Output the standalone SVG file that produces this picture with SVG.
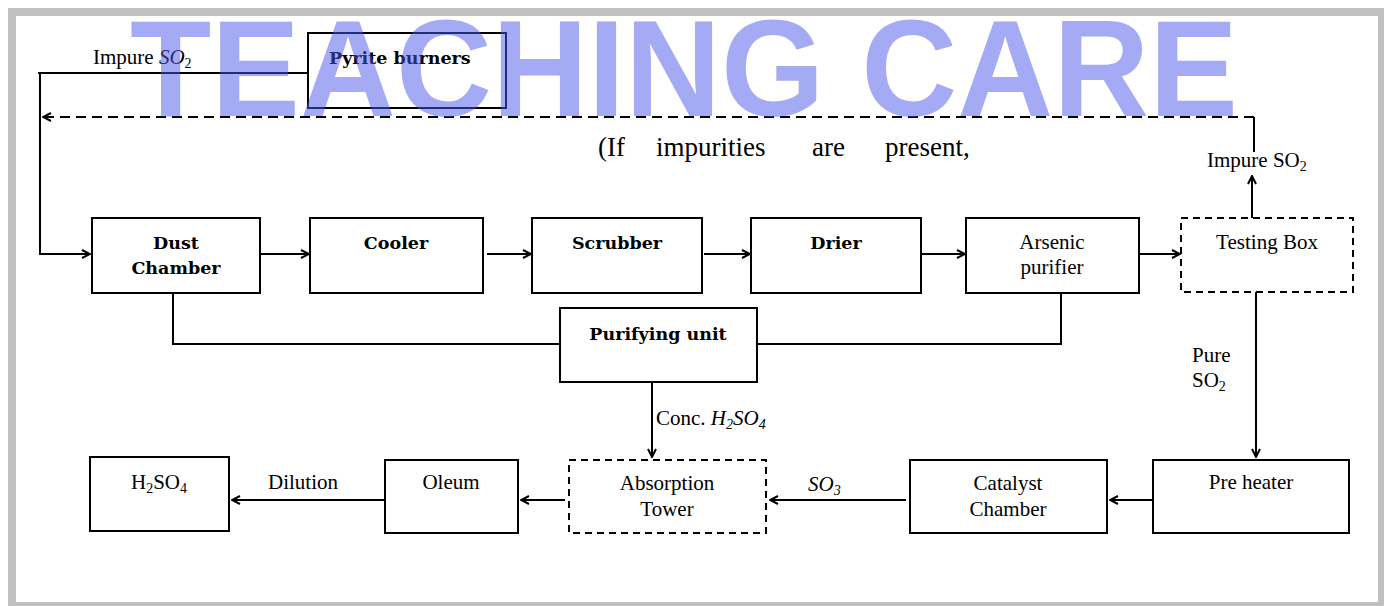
<svg xmlns="http://www.w3.org/2000/svg" width="1384" height="606" viewBox="0 0 1384 606">
<style>
.box{fill:#fff;stroke:#000;stroke-width:2}
.dbox{fill:#fff;stroke:#000;stroke-width:2;stroke-dasharray:7 5}
.ln{fill:none;stroke:#000;stroke-width:2}
.t{font-family:"Liberation Serif",serif;font-size:21px;fill:#000}
.big{font-family:"Liberation Serif",serif;font-size:27px;fill:#000}
.b{font-family:"DejaVu Serif",serif;font-size:17.5px;font-weight:bold;fill:#000}
.m{text-anchor:middle}
.s{font-size:14px}
</style>
<defs>
<marker id="ah" markerWidth="10" markerHeight="10" refX="9" refY="5" orient="auto" markerUnits="userSpaceOnUse">
<path d="M1,1 L9,5 L1,9" fill="none" stroke="#000" stroke-width="2"/>
</marker>
</defs>
<rect x="0" y="0" width="1384" height="606" fill="#fff"/>
<rect x="12" y="12" width="1370" height="594" fill="none" stroke="#c0c0c0" stroke-width="8"/>

<g id="connectors">
<polyline class="ln" points="308,73 38,73 40,73 40,254 90,254" marker-end="url(#ah)"/>
<line class="ln" x1="260" y1="254" x2="309" y2="254" marker-end="url(#ah)"/>
<line class="ln" x1="487" y1="254" x2="531" y2="254" marker-end="url(#ah)"/>
<line class="ln" x1="704" y1="254" x2="750" y2="254" marker-end="url(#ah)"/>
<line class="ln" x1="921" y1="254" x2="965" y2="254" marker-end="url(#ah)"/>
<line class="ln" x1="1139" y1="254" x2="1180" y2="254" marker-end="url(#ah)"/>
<line class="ln" x1="1252" y1="218" x2="1252" y2="176" marker-end="url(#ah)"/>
<polyline class="ln" points="1254,152 1254,117"/>
<polyline class="ln" points="1254,117 43,117" stroke-dasharray="10 6" marker-end="url(#ah)"/>
<polyline class="ln" points="173,293 173,344 560,344"/>
<polyline class="ln" points="1061,293 1061,344 757,344"/>
<line class="ln" x1="652" y1="382" x2="652" y2="457" marker-end="url(#ah)"/>
<line class="ln" x1="1256" y1="292" x2="1256" y2="457" marker-end="url(#ah)"/>
<line class="ln" x1="1153" y1="500" x2="1110" y2="500" marker-end="url(#ah)"/>
<line class="ln" x1="906" y1="500" x2="770" y2="500" marker-end="url(#ah)"/>
<line class="ln" x1="565" y1="500" x2="521" y2="500" marker-end="url(#ah)"/>
<line class="ln" x1="385" y1="500" x2="232" y2="500" marker-end="url(#ah)"/>
</g>

<g id="labels">
<text class="t" x="93" y="64">Impure <tspan font-style="italic">SO</tspan><tspan class="s" dy="4">2</tspan></text>
<text class="t" x="1207" y="167">Impure SO<tspan class="s" dy="4">2</tspan></text>
<text class="big" y="156"><tspan x="598">(If</tspan><tspan x="656">impurities</tspan><tspan x="812">are</tspan><tspan x="885">present,</tspan></text>
<text class="t" x="656" y="425">Conc. <tspan font-style="italic">H</tspan><tspan class="s" dy="4" font-style="italic">2</tspan><tspan dy="-4" font-style="italic">SO</tspan><tspan class="s" dy="4" font-style="italic">4</tspan></text>
<text class="t" x="1192" y="362">Pure</text>
<text class="t" x="1192" y="387">SO<tspan class="s" dy="4">2</tspan></text>
<text class="t" x="808" y="491" font-style="italic">SO<tspan class="s" dy="4">3</tspan></text>
<text class="t" x="268" y="489">Dilution</text>
</g>

<g id="pyrite"><rect class="box" x="308" y="33" width="198" height="75"/><text class="b" x="329" y="64">Pyrite burners</text></g>
<g id="dust"><rect class="box" x="92" y="218" width="168" height="75"/><text class="b m" x="176" y="249">Dust</text><text class="b m" x="176" y="274">Chamber</text></g>
<g id="cooler"><rect class="box" x="310" y="218" width="173" height="75"/><text class="b m" x="396" y="249">Cooler</text></g>
<g id="scrubber"><rect class="box" x="532" y="218" width="170" height="75"/><text class="b m" x="617" y="249">Scrubber</text></g>
<g id="drier"><rect class="box" x="751" y="218" width="170" height="75"/><text class="b m" x="836" y="249">Drier</text></g>
<g id="arsenic"><rect class="box" x="966" y="218" width="173" height="75"/><text class="t m" x="1052" y="249">Arsenic</text><text class="t m" x="1052" y="274">purifier</text></g>
<g id="testing"><rect class="dbox" x="1181" y="218" width="172" height="74"/><text class="t m" x="1267" y="249">Testing Box</text></g>
<g id="purifying"><rect class="box" x="560" y="308" width="197" height="74"/><text class="b m" x="658" y="340">Purifying unit</text></g>
<g id="h2so4"><rect class="box" x="90" y="457" width="139" height="74"/><text class="t m" x="159" y="489">H<tspan class="s" dy="4">2</tspan><tspan dy="-4">SO</tspan><tspan class="s" dy="4">4</tspan></text></g>
<g id="oleum"><rect class="box" x="385" y="460" width="133" height="73"/><text class="t m" x="451" y="489">Oleum</text></g>
<g id="absorption"><rect class="dbox" x="569" y="460" width="197" height="73"/><text class="t m" x="667" y="490">Absorption</text><text class="t m" x="667" y="516">Tower</text></g>
<g id="catalyst"><rect class="box" x="910" y="460" width="197" height="73"/><text class="t m" x="1008" y="490">Catalyst</text><text class="t m" x="1008" y="516">Chamber</text></g>
<g id="preheater"><rect class="box" x="1153" y="460" width="196" height="73"/><text class="t m" x="1251" y="489">Pre heater</text></g>

<text x="130" y="116" font-family="Liberation Sans,Arial,sans-serif" font-weight="bold" font-size="137" fill="#4a55e8" fill-opacity="0.5" textLength="1108" lengthAdjust="spacingAndGlyphs">TEACHING CARE</text>
</svg>
